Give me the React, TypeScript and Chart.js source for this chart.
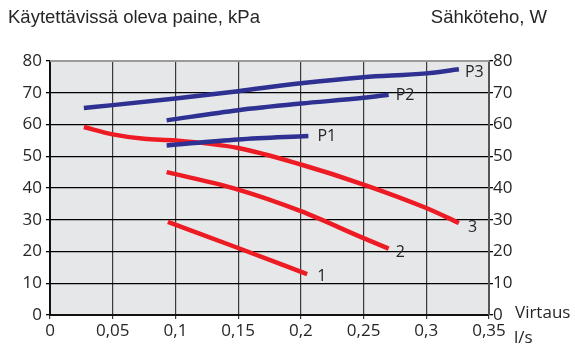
import React, { useEffect, useRef } from "react";
import { Chart, registerables } from "chart.js";

Chart.register(...registerables);

const xTicks = [0, 0.05, 0.1, 0.15, 0.2, 0.25, 0.3, 0.35];
const yTicks = [0, 10, 20, 30, 40, 50, 60, 70, 80];

const p3X = [0.027, 0.05, 0.1, 0.15, 0.2, 0.25, 0.3, 0.326];
const p3Y = [65.2, 66.1, 68.2, 70.5, 73.0, 74.9, 76.1, 77.4];
const p2X = [0.093, 0.15, 0.2, 0.25, 0.27];
const p2Y = [61.3, 64.5, 66.6, 68.4, 69.4];
const p1X = [0.093, 0.15, 0.206];
const p1Y = [53.4, 55.3, 56.4];

const c3X = [0.027, 0.05, 0.075, 0.1, 0.15, 0.2, 0.25, 0.3, 0.326];
const c3Y = [59.2, 56.9, 55.5, 55.0, 52.6, 47.4, 41.1, 33.7, 29.0];
const c2X = [0.093, 0.15, 0.2, 0.25, 0.27];
const c2Y = [45.0, 39.5, 32.7, 24.2, 20.9];
const c1X = [0.094, 0.15, 0.205];
const c1Y = [29.3, 21.1, 12.9];

const curveLabels = ["P3", "P2", "P1", "3", "2", "1"];
const leftTitle = "Käytettävissä oleva paine, kPa";
const rightTitle = "Sähköteho, W";
const xTitle1 = "Virtaus";
const xTitle2 = "l/s";

const BLUE = "#2e3192";
const RED = "#ed1c24";
const TEXT = "#262626";
const FONT = "'Open Sans', 'Noto Sans', sans-serif";

const pts = (xs: number[], ys: number[]) => xs.map((x, i) => ({ x, y: ys[i] }));

const labelOffsets = [
  [6, 3],
  [7, 1],
  [9, 1],
  [9, 5],
  [7, 4],
  [10, 2],
];

const fmt = (v: number) => String(Math.round(v * 100) / 100).replace(".", ",");

export default function App() {
  const ref = useRef<HTMLCanvasElement | null>(null);
  useEffect(() => {
    if (!ref.current) return;
    const series = [
      { d: pts(p3X, p3Y), c: BLUE },
      { d: pts(p2X, p2Y), c: BLUE },
      { d: pts(p1X, p1Y), c: BLUE },
      { d: pts(c3X, c3Y), c: RED },
      { d: pts(c2X, c2Y), c: RED },
      { d: pts(c1X, c1Y), c: RED },
    ];
    const deco = {
      id: "deco",
      beforeDraw(chart: any) {
        const { ctx, chartArea: a } = chart;
        ctx.save();
        ctx.fillStyle = "#e6e7e9";
        ctx.fillRect(a.left, a.top, a.right - a.left, a.bottom - a.top);
        ctx.restore();
      },
      afterDraw(chart: any) {
        const { ctx, chartArea: a } = chart;
        ctx.save();
        ctx.strokeStyle = "#9a9a9a";
        ctx.lineWidth = 2;
        ctx.beginPath();
        ctx.moveTo(a.left, a.top);
        ctx.lineTo(a.right, a.top);
        ctx.stroke();
        ctx.fillStyle = TEXT;
        ctx.font = `16px ${FONT}`;
        ctx.textBaseline = "middle";
        ctx.textAlign = "left";
        chart.data.datasets.forEach((ds: any, i: number) => {
          const last = ds.data[ds.data.length - 1];
          const px = chart.scales.x.getPixelForValue(last.x);
          const py = chart.scales.y.getPixelForValue(last.y);
          ctx.fillText(curveLabels[i], px + labelOffsets[i][0], py + labelOffsets[i][1]);
        });
        ctx.font = `18.5px 'Liberation Sans', Arial, sans-serif`;
        ctx.fillText(leftTitle, 8, 18);
        ctx.textAlign = "right";
        ctx.fillText(rightTitle, 547, 18);
        ctx.textAlign = "left";
        ctx.font = `17px ${FONT}`;
        ctx.fillText(xTitle1, 515, a.bottom - 2);
        ctx.fillText(xTitle2, 514, a.bottom + 23);
        ctx.restore();
      },
    };
    const chart = new Chart(ref.current, {
      type: "scatter",
      data: {
        datasets: series.map((s) => ({
          data: s.d,
          showLine: true,
          borderColor: s.c,
          backgroundColor: s.c,
          borderWidth: 4.5,
          pointRadius: 0,
          cubicInterpolationMode: "monotone",
          borderCapStyle: "butt",
        })),
      },
      options: {
        animation: false,
        responsive: false,
        maintainAspectRatio: false,
        layout: { padding: { top: 61, left: 0, right: 0, bottom: 0 } },
        plugins: { legend: { display: false }, tooltip: { enabled: false } },
        scales: {
          x: {
            type: "linear",
            min: 0,
            max: 0.35,
            afterBuildTicks: (ax: any) => {
              ax.ticks = xTicks.map((v) => ({ value: v }));
            },
            afterFit: (ax: any) => {
              ax.height = 30;
            },
            ticks: {
              color: TEXT,
              font: { family: FONT, size: 17 },
              padding: 2,
              maxRotation: 0,
              callback: (v: any) => fmt(Number(v)),
            },
            grid: { color: "#3a3a3a", lineWidth: 1.2, tickLength: 4 },
            border: { color: "#111", width: 2 },
          },
          y: {
            position: "left",
            min: 0,
            max: 80,
            afterBuildTicks: (ax: any) => {
              ax.ticks = yTicks.map((v) => ({ value: v }));
            },
            afterFit: (ax: any) => {
              ax.width = 50;
            },
            ticks: { color: TEXT, font: { family: FONT, size: 17 }, padding: 4 },
            grid: { color: "#000", lineWidth: 1.3, tickLength: 4 },
            border: { color: "#111", width: 2 },
          },
          y2: {
            position: "right",
            min: 0,
            max: 80,
            afterBuildTicks: (ax: any) => {
              ax.ticks = yTicks.map((v) => ({ value: v }));
            },
            afterFit: (ax: any) => {
              ax.width = 86;
            },
            ticks: { color: TEXT, font: { family: FONT, size: 17 }, padding: 0 },
            grid: { drawOnChartArea: false, color: "#000", lineWidth: 1.3, tickLength: 4 },
            border: { color: "#555", width: 2 },
          },
        },
      },
      plugins: [deco],
    } as any);
    return () => chart.destroy();
  }, []);
  return (
    <div style={{ position: "fixed", left: 0, top: 0, width: 575, height: 345, background: "#fff" }}>
      <canvas ref={ref} width={575} height={345} style={{ width: 575, height: 345 }} />
    </div>
  );
}
